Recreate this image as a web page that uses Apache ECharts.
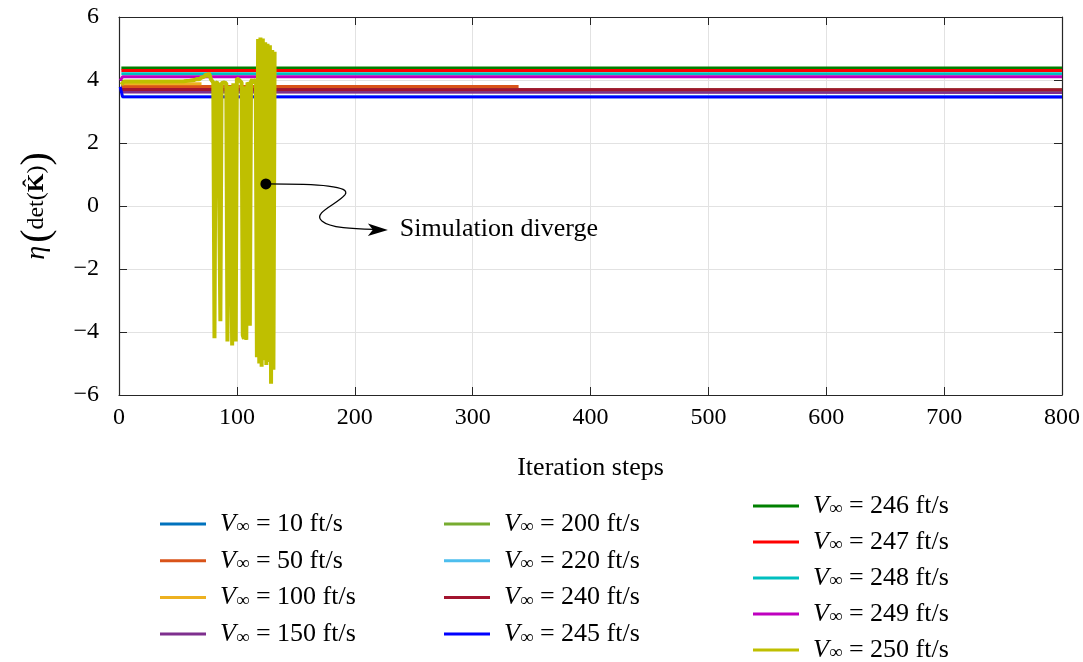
<!DOCTYPE html>
<html>
<head>
<meta charset="utf-8">
<script src="https://cdn.jsdelivr.net/npm/echarts@6/dist/echarts.min.js"></script>
<style>
html,body{margin:0;padding:0;background:#fff;}
#chart{width:1083px;height:662px;}
</style>
</head>
<body>
<div id="chart"></div>
<script>
// ---- data ----
const xTicks = [0, 100, 200, 300, 400, 500, 600, 700, 800];
const yTicks = [-6, -4, -2, 0, 2, 4, 6];
const speeds = [10, 50, 100, 150, 200, 220, 240, 245, 246, 247, 248, 249, 250];

const v10  = [[2, 3.80], [68, 3.80]];
const v50  = [[2, 3.79], [339, 3.79]];
const v100 = [[2, 3.88], [70, 3.88]];
const v150 = [[2, 3.62], [800, 3.60]];
const v200 = [[2, 3.70], [800, 3.69]];
const v220 = [[2, 3.47], [800, 3.47]];
const v240 = [[2, 3.70], [800, 3.69]];
const v245 = [[1, 3.78], [3, 3.47], [800, 3.46]];
const v246 = [[2, 4.38], [800, 4.38]];
const v247 = [[2, 4.30], [800, 4.30]];
const v248 = [[2, 4.20], [800, 4.20]];
const v249 = [[1, 3.98], [3, 4.10], [800, 4.10]];
const v250 = [[2, 3.85], [4, 3.95], [30, 3.95], [55, 3.96], [60, 3.98], [64, 4.0], [66, 4.03], [68, 4.02],
  [70, 4.08], [71, 4.04], [72, 4.1], [73, 4.06], [74, 4.18], [75, 4.1], [76, 4.22], [77, 4.15], [78, 4.02],
  [79, 3.98], [80, 3.92], [81, -4.2], [82, 3.92], [83, 3.96], [84, 3.9], [85, 3.85], [86, -3.66], [87, 3.9],
  [88, 3.96], [89, 3.92], [90, 3.95], [91, 3.9], [92, -4.3], [93, -4.36], [94, 3.82], [95, 3.86], [96, -4.43],
  [97, 3.9], [98, 3.85], [99, -4.3], [100, 4.05], [101, 4.1], [102, 4.0], [103, 4.05], [104, 3.92], [105, -4.1],
  [106, -4.22], [107, 3.8], [108, -4.25], [109, 3.92], [110, 3.85], [111, -3.8], [112, 3.95], [113, 4.02],
  [114, 3.9], [115, 3.95], [116, 4.02], [117, -4.8], [118, 5.3], [119, -5.0], [120, 5.35], [121, -5.1],
  [122, 5.32], [123, -4.9], [124, 5.2], [125, -5.05], [126, 5.15], [127, -4.95], [128, 5.1], [129, -5.64],
  [130, 4.95], [131, -5.2], [132, 4.9]];

const divergePoint = [124.6, 0.7];
const annotationText = 'Simulation diverge';

// ---- styles ----
const seriesData = [v10, v50, v100, v150, v200, v220, v240, v245, v246, v247, v248, v249, v250];
const colors = ['#0072BD', '#D95319', '#EDB120', '#7E2F8E', '#77AC30', '#4DBEEE', '#A2142F',
  '#0000FF', '#008000', '#FF0000', '#00BFBF', '#BF00BF', '#BFBF00'];
const FONT = '"Liberation Serif", "DejaVu Serif", serif';
const names = speeds.map(s => s + ' ft/s');

const series = seriesData.map((d, i) => ({
  name: names[i],
  type: 'line',
  data: d,
  showSymbol: false,
  symbol: 'none',
  lineStyle: { color: colors[i], width: i === 12 ? 4 : 3 },
  itemStyle: { color: colors[i] },
  z: 2 + i,
  silent: true
}));
series.push({
  name: 'diverge',
  type: 'scatter',
  data: [divergePoint],
  symbolSize: 11,
  itemStyle: { color: '#000', opacity: 1 },
  z: 30,
  silent: true
});

const legendRich = {
  v: { fontFamily: FONT, fontStyle: 'italic', fontSize: 26, lineHeight: 26, color: '#000', padding: [0, 0, 0, 9] },
  s: { fontFamily: FONT, fontSize: 19, lineHeight: 26, color: '#000', verticalAlign: 'bottom', padding: [8, 0, 0, 0] },
  t: { fontFamily: FONT, fontSize: 26, lineHeight: 26, color: '#000' }
};
function legendFmt(name) {
  return '{v|V}{s|∞}{t| = ' + name + '}';
}
function makeLegend(idx, left, top, gap) {
  return {
    data: idx.map(i => names[i]),
    orient: 'vertical',
    left: left, top: top,
    padding: 0,
    height: 220,
    itemGap: gap,
    itemWidth: 46, itemHeight: 3,
    icon: 'rect',
    formatter: legendFmt,
    selectedMode: false,
    textStyle: { rich: legendRich, fontFamily: FONT, fontSize: 26, lineHeight: 26, color: '#000' }
  };
}

const axisCol = '#262626';
const gridCol = '#e2e2e2';

const option = {
  animation: false,
  backgroundColor: '#fff',
  grid: { left: 119, right: 20, top: 17, bottom: 267, containLabel: false },
  xAxis: [{
    type: 'value', min: xTicks[0], max: xTicks[xTicks.length - 1], interval: 100,
    position: 'bottom',
    axisLine: { show: true, onZero: false, lineStyle: { color: axisCol, width: 1.2 } },
    axisTick: { show: true, inside: true, length: 8, lineStyle: { color: axisCol } },
    axisLabel: { fontFamily: FONT, fontSize: 24, color: '#000', margin: 11 },
    splitLine: { show: true, lineStyle: { color: gridCol, width: 1 } },
    name: 'Iteration steps', nameLocation: 'middle', nameGap: 60,
    nameTextStyle: { fontFamily: FONT, fontSize: 26, color: '#000' }
  }, {
    type: 'value', min: xTicks[0], max: xTicks[xTicks.length - 1], interval: 100,
    position: 'top',
    axisLine: { show: true, onZero: false, lineStyle: { color: axisCol, width: 1.2 } },
    axisTick: { show: true, inside: true, length: 8, lineStyle: { color: axisCol } },
    axisLabel: { show: false }, splitLine: { show: false }
  }],
  yAxis: [{
    type: 'value', min: yTicks[0], max: yTicks[yTicks.length - 1], interval: 2,
    position: 'left',
    axisLine: { show: true, onZero: false, lineStyle: { color: axisCol, width: 1.2 } },
    axisTick: { show: true, inside: true, length: 8, lineStyle: { color: axisCol } },
    axisLabel: { fontFamily: FONT, fontSize: 24, color: '#000', margin: 20,
      formatter: v => String(v).replace('-', '\u2212') },
    splitLine: { show: true, lineStyle: { color: gridCol, width: 1 } },
    name: '{i|η} {p|(}{n|det(}{b|K\u0302}{n|)}{p|)}',
    nameLocation: 'middle', nameRotate: 90, nameGap: 62,
    nameTextStyle: {
      fontFamily: FONT, color: '#000',
      rich: {
        i: { fontFamily: FONT, fontStyle: 'italic', fontSize: 28, color: '#000' },
        p: { fontFamily: FONT, fontSize: 40, color: '#000' },
        n: { fontFamily: FONT, fontSize: 24, color: '#000' },
        b: { fontFamily: FONT, fontSize: 24, fontWeight: 'bold', color: '#000' }
      }
    }
  }, {
    type: 'value', min: yTicks[0], max: yTicks[yTicks.length - 1], interval: 2,
    position: 'right',
    axisLine: { show: true, onZero: false, lineStyle: { color: axisCol, width: 1.2 } },
    axisTick: { show: true, inside: true, length: 8, lineStyle: { color: axisCol } },
    axisLabel: { show: false }, splitLine: { show: false }
  }],
  legend: [
    makeLegend([0, 1, 2, 3], 160, 510, 9.7),
    makeLegend([4, 5, 6, 7], 444, 510, 9.7),
    makeLegend([8, 9, 10, 11, 12], 753, 492, 9)
  ],
  series: series
};

const chart = echarts.init(document.getElementById('chart'), null, { renderer: 'canvas' });
chart.setOption(option);

// annotation arrow (anchored at the diverge point, offsets in pixels from it)
const p = chart.convertToPixel({ xAxisIndex: 0, yAxisIndex: 0 }, divergePoint);
const ox = p[0], oy = p[1];
function seg(x1, y1, c1x, c1y, c2x, c2y, x2, y2) {
  return {
    type: 'bezierCurve', z: 50, silent: true,
    shape: { x1: ox + x1, y1: oy + y1, cpx1: ox + c1x, cpy1: oy + c1y, cpx2: ox + c2x, cpy2: oy + c2y, x2: ox + x2, y2: oy + y2 },
    style: { stroke: '#000', lineWidth: 1.3, fill: null }
  };
}
chart.setOption({
  graphic: [
    seg(0, 0, 54, 0, 86, 2, 79, 11),
    seg(79, 11, 72, 20, 46, 29, 56, 37),
    seg(56, 37, 64, 44, 88, 45, 108, 45.5),
    {
      type: 'polygon', z: 51, silent: true,
      shape: { points: [[ox + 122, oy + 46], [ox + 102, oy + 39.5], [ox + 107, oy + 45.8], [ox + 102, oy + 52]] },
      style: { fill: '#000' }
    }, {
      type: 'text', z: 52, silent: true,
      x: ox + 134, y: oy + 45,
      style: { text: annotationText, fontFamily: FONT, fontSize: 26, fill: '#000', verticalAlign: 'middle', align: 'left' }
    }
  ]
});
</script>
</body>
</html>
